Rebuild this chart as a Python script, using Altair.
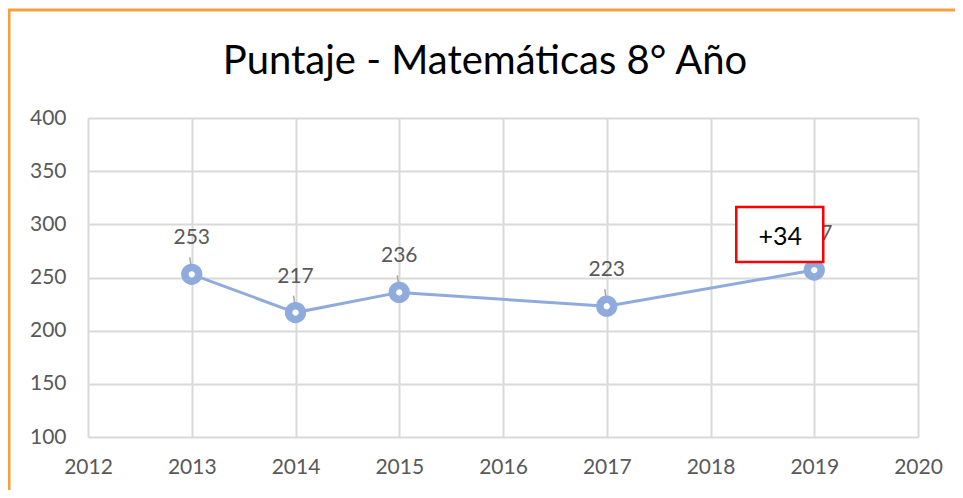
import altair as alt
import pandas as pd

FONT = "Lato"

years = [2013, 2014, 2015, 2017, 2019]
scores = [253, 217, 236, 223, 257]
x_ticks = [2012, 2013, 2014, 2015, 2016, 2017, 2018, 2019, 2020]
y_ticks = [100, 150, 200, 250, 300, 350, 400]
title_text = ["Puntaje - Matemáticas 8° Año"]
note_year = [2019]
note_score = [257]
note_text = ["+34"]

df = pd.DataFrame({"Año": years, "Puntaje": scores, "label": [str(s) for s in scores]})
note = pd.DataFrame({"Año": note_year, "Puntaje": note_score, "text": note_text})
frame = pd.DataFrame({"k": [0]})
title_df = pd.DataFrame({"t": title_text})

xs = alt.Scale(domain=[2012, 2020], nice=False, zero=False)
ys = alt.Scale(domain=[100, 400], nice=False, zero=False)

x = alt.X("Año:Q", scale=xs, axis=alt.Axis(
    values=x_ticks, format="d", title=None, grid=True, gridColor="#D9D9D9",
    gridWidth=2, domain=False, ticks=False, labelFontSize=21, labelFont=FONT,
    labelColor="#595959", labelPadding=19, labelOverlap=False, labelFlush=False))
y = alt.Y("Puntaje:Q", scale=ys, axis=alt.Axis(
    values=y_ticks, title=None, grid=True, gridColor="#D9D9D9", gridWidth=2,
    domain=False, ticks=False, labelFontSize=21, labelFont=FONT,
    labelColor="#595959", labelPadding=22, labelOverlap=False, labelFlush=False))

BLUE = "#8FAADC"

line = alt.Chart(df).mark_line(color=BLUE, strokeWidth=3).encode(x=x, y=y)

leaders = alt.Chart(df).mark_rule(color="#A6A6A6", strokeWidth=1.5,
                                  yOffset=-17, y2Offset=-4, xOffset=-2, x2Offset=0).encode(
    x="Año:Q", x2="Año:Q", y="Puntaje:Q", y2="Puntaje:Q")

points = alt.Chart(df).mark_point(shape="circle", filled=False, fill="white",
                                  fillOpacity=1, stroke=BLUE, strokeWidth=7.5,
                                  size=190, opacity=1).encode(x="Año:Q", y="Puntaje:Q")

labels = alt.Chart(df).mark_text(font=FONT, fontSize=21, color="#595959",
                                 dy=-36, baseline="middle").encode(
    x="Año:Q", y="Puntaje:Q", text="label:N")

box = alt.Chart(note).mark_rect(fill="white", stroke="#FF0000", strokeWidth=2.5,
                                xOffset=-78, x2Offset=9, yOffset=-63, y2Offset=-8).encode(
    x="Año:Q", x2="Año:Q", y="Puntaje:Q", y2="Puntaje:Q")

box_text = alt.Chart(note).mark_text(font=FONT, fontSize=25, color="#000000",
                                     dx=-34, dy=-33, baseline="middle").encode(
    x="Año:Q", y="Puntaje:Q", text="text:N")

title = alt.Chart(title_df).mark_text(font=FONT, fontSize=40, color="#000000",
                                      baseline="middle", align="center").encode(
    x=alt.value(397), y=alt.value(-56), text="t:N")

ORANGE = "#F4A03C"
left_border = alt.Chart(frame).mark_rule(color=ORANGE, strokeWidth=3).encode(
    x=alt.value(-79), y=alt.value(-108), y2=alt.value(380))
top_border = alt.Chart(frame).mark_rule(color=ORANGE, strokeWidth=3).encode(
    x=alt.value(-80), x2=alt.value(870), y=alt.value(-108))

chart = alt.layer(line, leaders, points, labels, box, box_text, title,
                  left_border, top_border).properties(
    width=830, height=319,
    autosize=alt.AutoSizeParams(type="none"),
    padding={"left": 80, "top": 110, "right": 37, "bottom": 53},
).configure_view(stroke=None).configure(background="white")

chart.save("out.html", embed_options={"renderer": "svg", "actions": False})
